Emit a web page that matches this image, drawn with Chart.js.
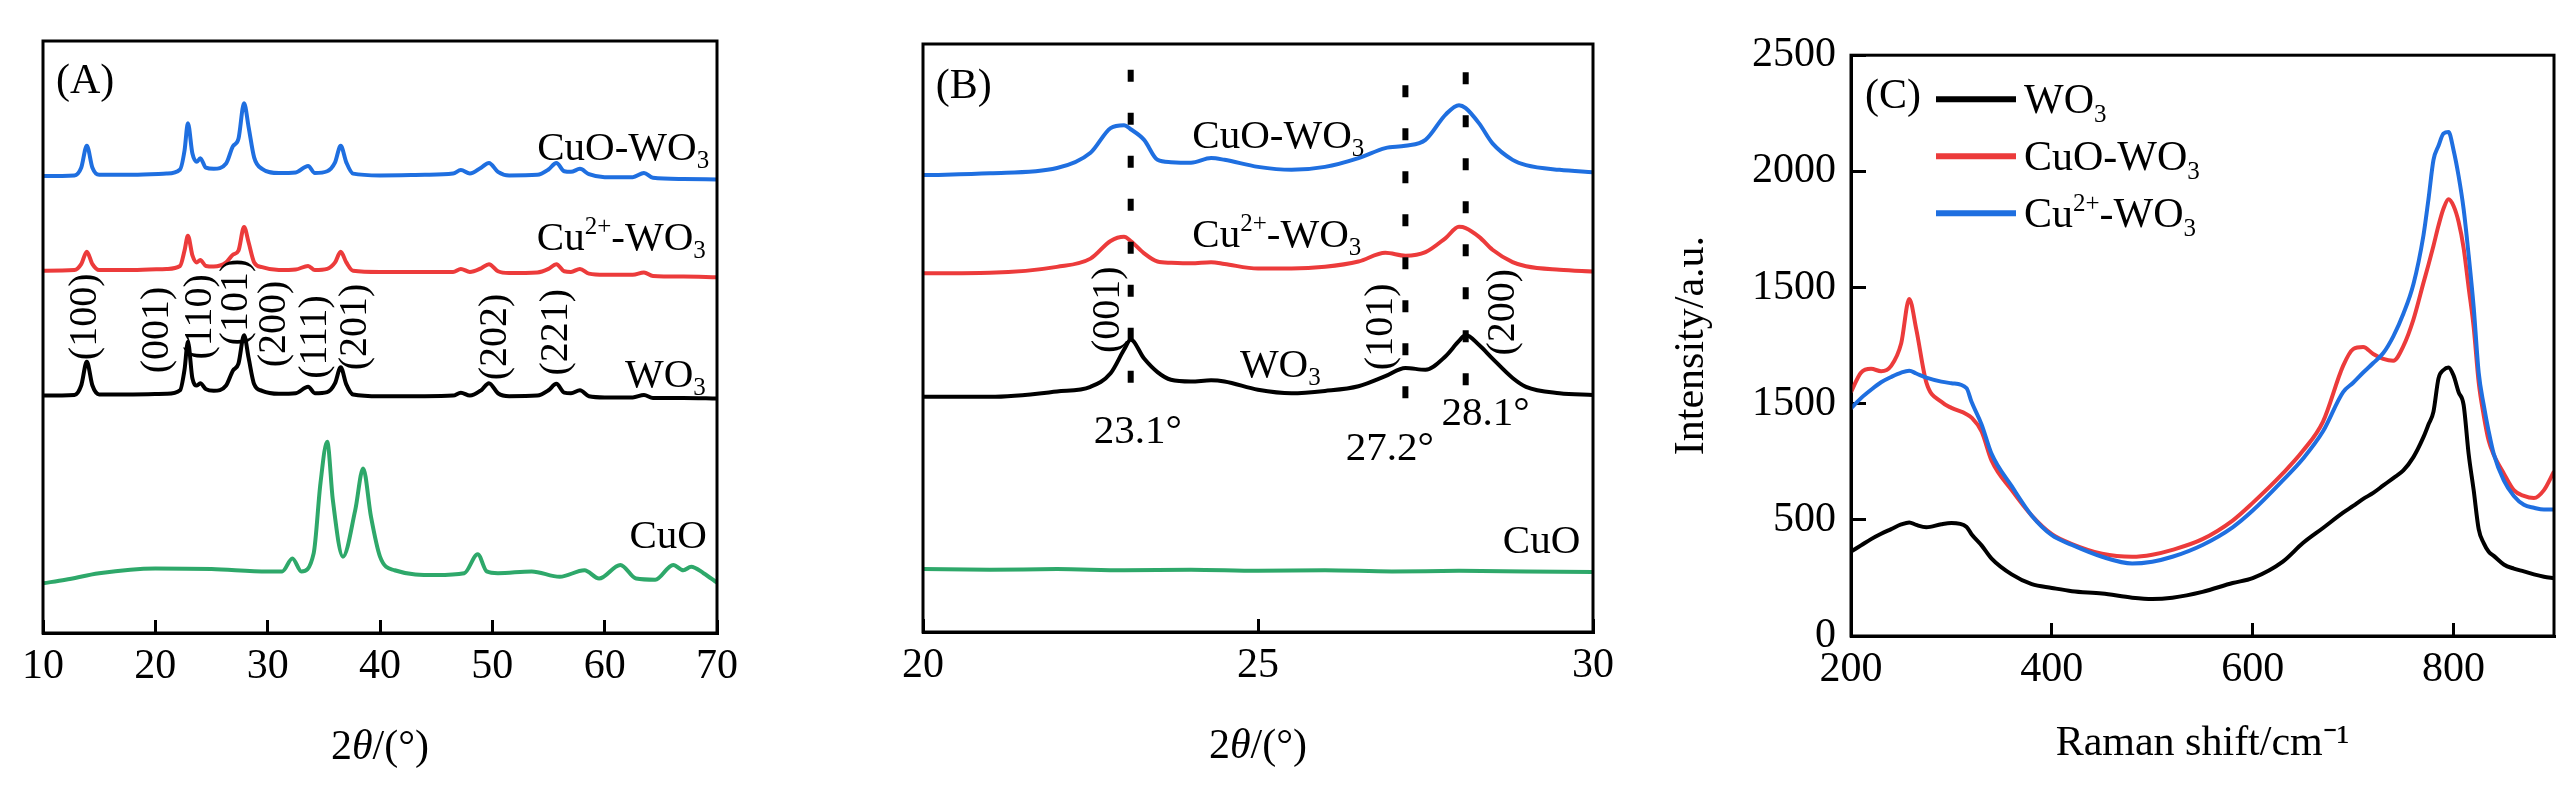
<!DOCTYPE html>
<html>
<head>
<meta charset="utf-8">
<script src="https://cdn.jsdelivr.net/npm/chart.js@4.4.1/dist/chart.umd.min.js"></script>
<style>
  html, body { margin: 0; padding: 0; background: #fff; }
  body { width: 2567px; height: 787px; position: relative; overflow: hidden; }
  canvas { position: absolute; top: 0; }
</style>
</head>
<body>
<canvas id="chartA" width="760" height="787" style="left:0px"></canvas>
<canvas id="chartB" width="760" height="787" style="left:880px"></canvas>
<canvas id="chartC" width="927" height="787" style="left:1640px"></canvas>
<script>
// ---- (A) XRD, 10-70 deg, stacked curves (arbitrary units 0-100)
const xA = [10, 12.8, 13.4, 13.9, 14.4, 15, 18, 21, 22.2, 22.6, 22.9, 23.3, 23.7, 24.0, 24.5, 25.2,
  26.3, 26.9, 27.4, 27.9, 28.3, 28.8, 29.5, 31, 32.5, 33.6, 34.2, 35.3, 36.0, 36.5, 37.0, 37.6,
  40, 44, 46.5, 47.2, 48, 49.0, 49.7, 50.5, 51.5, 54, 55.0, 55.7, 56.4, 57.0, 57.8, 58.6,
  60, 62.5, 63.5, 64.3, 67, 70];
const cuoWo3A = [77.2, 77.3, 78.6, 82.3, 78.6, 77.4, 77.4, 77.6, 78.3, 81.5, 86.1, 81.0, 79.6, 80.2, 78.6, 78.4,
  79.3, 82.2, 83.5, 89.5, 85.5, 80.3, 78.4, 77.7, 77.8, 78.9, 77.7, 78.0, 79.5, 82.3, 79.5, 77.6,
  77.3, 77.4, 77.6, 78.2, 77.6, 78.6, 79.4, 77.9, 77.3, 77.4, 78.3, 79.4, 78.0, 77.9, 78.4, 77.5,
  77.0, 77.0, 77.7, 76.9, 76.7, 76.6];
const cuIonA = [61.2, 61.3, 62.3, 64.4, 62.3, 61.3, 61.3, 61.5, 62.0, 64.6, 67.1, 63.8, 62.6, 63.0, 62.0, 61.9,
  62.6, 63.9, 64.6, 68.6, 66.0, 62.6, 61.8, 61.3, 61.4, 62.0, 61.3, 61.5, 62.6, 64.4, 62.6, 61.2,
  61.0, 61.0, 61.0, 61.5, 61.0, 61.6, 62.3, 61.1, 60.8, 60.9, 61.5, 62.3, 61.1, 61.0, 61.5, 60.7,
  60.5, 60.5, 60.9, 60.3, 60.2, 60.1];
const wo3A = [40.1, 40.2, 41.8, 45.8, 41.8, 40.3, 40.3, 40.4, 41.0, 44.5, 49.2, 43.0, 41.8, 42.2, 41.2, 40.9,
  41.8, 44.3, 45.5, 50.3, 46.5, 42.0, 40.9, 40.4, 40.5, 41.6, 40.5, 40.7, 42.2, 44.9, 42.0, 40.3,
  40.0, 40.0, 40.1, 40.6, 40.1, 41.0, 42.2, 40.5, 40.0, 40.1, 41.0, 42.1, 40.6, 40.5, 41.0, 40.0,
  39.8, 39.8, 40.2, 39.7, 39.7, 39.6];
const xCuoA = [10, 12, 15, 20, 25, 30, 31.3, 32.2, 33.0, 34.1, 34.7, 35.3, 35.8, 36.7, 37.8, 38.5, 39.2, 40.0, 41.3,
  45, 47.5, 48.7, 49.5, 50.5, 53.5, 56, 58.2, 59.5, 61.4, 62.8, 64.5, 66.1, 67.0, 67.7, 68.8, 70];
const cuoA = [8.4, 9.0, 10.1, 10.9, 10.8, 10.4, 10.4, 12.6, 10.4, 13.5, 25.3, 32.3, 22.5, 12.9, 20.8, 27.8, 19.6, 12.9, 10.6,
  9.8, 10.1, 13.3, 10.4, 10.1, 10.4, 9.5, 10.6, 9.2, 11.5, 9.2, 9.0, 11.5, 10.6, 11.2, 10.1, 8.5];

// ---- (B) XRD zoom, 20-30 deg
const xB = [20, 21, 22, 22.5, 22.8, 23.0, 23.1, 23.3, 23.5, 23.7, 24.0, 24.3, 24.5, 25.0, 25.5,
  26.0, 26.5, 26.9, 27.2, 27.5, 27.8, 28.0, 28.1, 28.3, 28.5, 28.8, 29.0, 29.5, 30];
const cuoWo3B = [77.7, 78.0, 78.9, 81.5, 85.7, 86.2, 85.5, 83.7, 80.3, 79.9, 79.8, 80.6, 80.3, 79.1, 78.6,
  79.1, 80.6, 82.3, 82.7, 83.7, 88.0, 89.6, 89.1, 86.5, 83.1, 80.3, 79.4, 78.6, 78.2];
const cuIonB = [61.0, 61.1, 62.1, 63.5, 66.5, 67.2, 66.5, 64.4, 63.0, 62.8, 62.7, 62.9, 62.6, 61.8, 61.8,
  62.1, 63.0, 64.5, 64.0, 64.6, 67.0, 68.9, 68.7, 67.2, 65.0, 62.9, 62.2, 61.6, 61.3];
const wo3B = [40.0, 40.0, 40.9, 41.7, 44.0, 48.0, 49.7, 46.5, 44.2, 42.9, 42.6, 42.8, 42.6, 41.2, 40.6,
  41.0, 41.8, 43.5, 44.9, 44.6, 46.9, 49.5, 50.5, 48.8, 46.5, 43.2, 41.7, 40.6, 40.3];
const xCuoB = [20, 21, 22, 23, 24, 25, 26, 27, 28, 29, 30];
const cuoB = [10.7, 10.6, 10.7, 10.5, 10.6, 10.4, 10.5, 10.3, 10.4, 10.3, 10.2];
const peakLinesX = [23.1, 27.2, 28.1];
const peakLinesTop = [95.6, 93.0, 95.2];
const peakLinesBottom = [41.7, 38.9, 41.2];

// ---- (C) Raman
const xC = [200, 210, 220, 230, 240, 250, 258, 265, 275, 290, 300, 315, 320, 330, 340, 360, 380, 400, 420, 450,
  480, 500, 520, 550, 580, 600, 630, 650, 670, 690, 700, 710, 720, 730, 740, 750, 760, 770, 775, 780,
  785, 790, 795, 800, 805, 810, 815, 820, 825, 830, 835, 840, 850, 860, 870, 880, 890, 900];
const wo3C = [363, 390, 417, 440, 460, 480, 489, 478, 468, 481, 486, 470, 438, 390, 333, 265, 223, 207, 193, 183,
  165, 159, 165, 190, 228, 249, 320, 400, 465, 531, 560, 590, 616, 648, 680, 713, 770, 856, 910, 966,
  1109, 1145, 1156, 1121, 1050, 995, 784, 628, 460, 400, 363, 345, 308, 290, 278, 265, 255, 249];
const cuoWo3C = [1050, 1134, 1150, 1140, 1163, 1260, 1451, 1320, 1092, 1008, 982, 955, 940, 881, 755, 628, 518, 438, 396, 354,
  341, 350, 371, 417, 497, 573, 700, 797, 923, 1163, 1235, 1244, 1214, 1193, 1185, 1248, 1362, 1520, 1598, 1680,
  1767, 1840, 1880, 1851, 1783, 1670, 1500, 1330, 1092, 950, 840, 780, 700, 628, 603, 594, 628, 708];
const cuIonC = [980, 1024, 1060, 1092, 1115, 1134, 1142, 1130, 1112, 1095, 1088, 1067, 1008, 911, 784, 645, 518, 434, 392, 341,
  312, 320, 341, 392, 468, 540, 670, 763, 881, 1050, 1090, 1134, 1175, 1218, 1290, 1387, 1514, 1724, 1880, 2049,
  2110, 2163, 2169, 2091, 1980, 1838, 1640, 1417, 1134, 995, 880, 784, 670, 603, 565, 552, 544, 544];
const yTickLabelsC = ['0', '500', '1500', '1500', '2000', '2500'];

const FONT = "'Liberation Serif', 'Times New Roman', serif";
const BLUE = '#1f6fe0', RED = '#ec3b3b', GREEN = '#2ea86a', BLACK = '#000000';

Chart.defaults.font.family = FONT;
Chart.defaults.color = '#000';

const SUBS = '₀₁₂₃₄₅₆₇₈₉', SUPS = '⁰¹²³⁴⁵⁶⁷⁸⁹⁺⁻', SUPN = '0123456789+-';

// split a label into normal / subscript / superscript / italic runs
function runsOf(str) {
  const runs = [];
  for (const ch of str) {
    let kind = 'n', c = ch;
    if (SUBS.includes(ch)) { kind = 'sub'; c = String(SUBS.indexOf(ch)); }
    else if (SUPS.includes(ch)) { kind = 'sup'; c = SUPN[SUPS.indexOf(ch)]; }
    else if (ch === 'θ') { kind = 'it'; }
    const last = runs[runs.length - 1];
    if (last && last.kind === kind) last.text += c;
    else runs.push({ kind, text: c });
  }
  return runs;
}

function runFont(r) {
  return (r.kind === 'it' ? 'italic ' : '') + r.size + 'px ' + FONT;
}

function drawRich(ctx, str, x, y, size, align) {
  const runs = runsOf(str);
  let total = 0;
  runs.forEach(r => {
    r.size = (r.kind === 'sub' || r.kind === 'sup') ? Math.round(size * 0.6) : size;
    r.dy = r.kind === 'sub' ? size * 0.2 : (r.kind === 'sup' ? -size * 0.38 : 0);
    ctx.font = runFont(r);
    r.w = ctx.measureText(r.text).width;
    total += r.w;
  });
  let cx = align === 'right' ? x - total : (align === 'center' ? x - total / 2 : x);
  ctx.textAlign = 'left';
  ctx.textBaseline = 'alphabetic';
  runs.forEach(r => {
    ctx.font = runFont(r);
    ctx.fillText(r.text, cx, y + r.dy);
    cx += r.w;
  });
}

// box, labels, axis title and legend drawn on top of the datasets
const decor = {
  id: 'decor',
  afterDatasetsDraw(chart, args, opts) {
    const { ctx, chartArea: a, scales: { x, y } } = chart;
    ctx.save();
    ctx.strokeStyle = '#000';
    ctx.lineWidth = 3;
    ctx.strokeRect(a.left, a.top, a.right - a.left, a.bottom - a.top);
    ctx.fillStyle = '#000';
    (opts.texts || []).forEach(t => {
      const px = x.getPixelForValue(t.x), py = y.getPixelForValue(t.y);
      const size = t.size || 41;
      if (t.rotate) {
        ctx.save();
        ctx.translate(px, py);
        ctx.rotate(-Math.PI / 2);
        ctx.font = size + 'px ' + FONT;
        ctx.textAlign = 'center';
        ctx.textBaseline = 'middle';
        ctx.fillText(t.text, 0, 0);
        ctx.restore();
      } else {
        drawRich(ctx, t.text, px, py, size, t.align || 'left');
      }
    });
    if (opts.xTitle) {
      drawRich(ctx, opts.xTitle, (a.left + a.right) / 2, a.bottom + 126, 42, 'center');
    }
    if (opts.legend) {
      const L = opts.legend;
      chart.data.datasets.forEach((ds, i) => {
        const ly = a.top + L.y0 + i * L.dy;
        ctx.strokeStyle = ds.borderColor;
        ctx.lineWidth = 6;
        ctx.beginPath();
        ctx.moveTo(a.left + L.x0, ly);
        ctx.lineTo(a.left + L.x0 + L.len, ly);
        ctx.stroke();
        ctx.fillStyle = '#000';
        drawRich(ctx, ds.label, a.left + L.x0 + L.len + 8, ly + 14, 42, 'left');
      });
    }
    ctx.restore();
  }
};

function pts(xs, ys) { return xs.map((x, i) => ({ x: x, y: ys[i] })); }

function curve(label, xs, ys, color, order) {
  return {
    label: label, data: pts(xs, ys), borderColor: color, backgroundColor: color,
    borderWidth: 4, pointRadius: 0, cubicInterpolationMode: 'monotone', fill: false, order: order || 0
  };
}

function xScale(min, max, step, title, axisHeight) {
  return {
    type: 'linear', position: 'bottom', min: min, max: max,
    afterFit: s => { s.height = axisHeight; },
    ticks: { stepSize: step, includeBounds: false, padding: 22, maxRotation: 0, autoSkip: false,
      font: { size: 42 }, color: '#000' },
    grid: { drawOnChartArea: false, drawTicks: true, tickLength: -13, color: '#000', lineWidth: 3 },
    border: { display: true, color: '#000', width: 3 },
    title: { display: !!title, text: title || '', font: { size: 42 }, color: '#000', padding: { top: 0, bottom: 18 } }
  };
}

const hiddenY = { type: 'linear', display: false, min: 0, max: 100 };
const commonPlugins = { legend: { display: false }, tooltip: { enabled: false } };

// ---- panel A
new Chart(document.getElementById('chartA'), {
  type: 'line',
  data: {
    datasets: [
      curve('CuO-WO₃', xA, cuoWo3A, BLUE),
      curve('Cu²⁺-WO₃', xA, cuIonA, RED),
      curve('WO₃', xA, wo3A, BLACK),
      curve('CuO', xCuoA, cuoA, GREEN)
    ]
  },
  options: {
    responsive: false, animation: false,
    layout: { padding: { left: 29, right: 35, top: 41, bottom: 0 } },
    scales: { x: xScale(10, 70, 10, null, 154), y: hiddenY },
    plugins: Object.assign({}, commonPlugins, {
      decor: {
        xTitle: '2θ/(°)',
        texts: [
          { text: '(A)', x: 11.16, y: 91.2, size: 42 },
          { text: 'CuO-WO₃', x: 69.3, y: 79.9, align: 'right' },
          { text: 'Cu²⁺-WO₃', x: 69.0, y: 64.7, align: 'right' },
          { text: 'WO₃', x: 69.0, y: 41.6, align: 'right' },
          { text: 'CuO', x: 69.1, y: 14.4, align: 'right' },
          { text: '(100)', x: 13.79, y: 53.4, rotate: true, size: 40 },
          { text: '(001)', x: 20.17, y: 51.2, rotate: true, size: 40 },
          { text: '(110)', x: 24.05, y: 53.4, rotate: true, size: 40 },
          { text: '(101)', x: 27.24, y: 55.9, rotate: true, size: 40 },
          { text: '(200)', x: 30.6, y: 52.2, rotate: true, size: 40 },
          { text: '(111)', x: 34.22, y: 50.0, rotate: true, size: 40 },
          { text: '(201)', x: 37.84, y: 51.7, rotate: true, size: 40 },
          { text: '(202)', x: 50.26, y: 50.0, rotate: true, size: 40 },
          { text: '(221)', x: 55.69, y: 50.8, rotate: true, size: 40 }
        ]
      }
    })
  },
  plugins: [decor]
});

// ---- panel B
const dashSets = peakLinesX.map((px, i) => ({
  label: 'peak ' + px, data: [{ x: px, y: peakLinesTop[i] }, { x: px, y: peakLinesBottom[i] }],
  borderColor: '#000', borderWidth: 6, borderDash: [12, 31], pointRadius: 0, fill: false, order: -1
}));

new Chart(document.getElementById('chartB'), {
  type: 'line',
  data: {
    datasets: [
      curve('CuO-WO₃', xB, cuoWo3B, BLUE),
      curve('Cu²⁺-WO₃', xB, cuIonB, RED),
      curve('WO₃', xB, wo3B, BLACK),
      curve('CuO', xCuoB, cuoB, GREEN)
    ].concat(dashSets)
  },
  options: {
    responsive: false, animation: false,
    layout: { padding: { left: 35, right: 47, top: 44, bottom: 0 } },
    scales: { x: xScale(20, 30, 5, null, 155), y: hiddenY },
    plugins: Object.assign({}, commonPlugins, {
      decor: {
        xTitle: '2θ/(°)',
        texts: [
          { text: '(B)', x: 20.19, y: 90.8, size: 42 },
          { text: 'CuO-WO₃', x: 24.02, y: 82.3 },
          { text: 'Cu²⁺-WO₃', x: 24.02, y: 65.5 },
          { text: 'WO₃', x: 24.73, y: 43.4 },
          { text: 'CuO', x: 29.81, y: 13.4, align: 'right' },
          { text: '(001)', x: 22.77, y: 54.8, rotate: true, size: 40 },
          { text: '(101)', x: 26.84, y: 51.9, rotate: true, size: 40 },
          { text: '(200)', x: 28.67, y: 54.4, rotate: true, size: 40 },
          { text: '23.1°', x: 22.55, y: 32.1 },
          { text: '27.2°', x: 26.31, y: 29.3 },
          { text: '28.1°', x: 27.74, y: 35.2 }
        ]
      }
    })
  },
  plugins: [decor]
});

// ---- panel C
new Chart(document.getElementById('chartC'), {
  type: 'line',
  data: {
    datasets: [
      curve('WO₃', xC, wo3C, BLACK, 2),
      curve('CuO-WO₃', xC, cuoWo3C, RED, 1),
      curve('Cu²⁺-WO₃', xC, cuIonC, BLUE, 0)
    ]
  },
  options: {
    responsive: false, animation: false,
    layout: { padding: { left: 0, right: 13, top: 43, bottom: 0 } },
    scales: {
      x: xScale(200, 900, 200, 'Raman shift/cm⁻¹', 151),
      y: {
        type: 'linear', position: 'left', min: 0, max: 2500,
        afterFit: s => { s.width = 211; },
        ticks: { stepSize: 500, padding: 30, font: { size: 42 }, color: '#000',
          callback: (value, index) => yTickLabelsC[index] },
        grid: { drawOnChartArea: false, drawTicks: true, tickLength: -15, color: '#000', lineWidth: 3 },
        border: { display: true, color: '#000', width: 3 },
        title: { display: true, text: 'Intensity/a.u.', font: { size: 42 }, color: '#000', padding: { top: 27, bottom: 0 } }
      }
    },
    plugins: Object.assign({}, commonPlugins, {
      decor: {
        texts: [{ text: '(C)', x: 214, y: 2272, size: 42 }],
        legend: { x0: 85, len: 80, y0: 44, dy: 57 }
      }
    })
  },
  plugins: [decor]
});
</script>
</body>
</html>
